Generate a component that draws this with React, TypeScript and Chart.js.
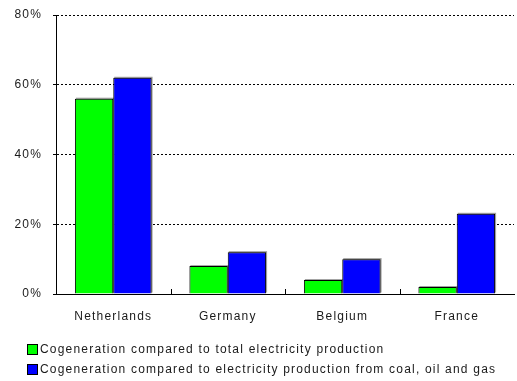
import React, { useEffect, useRef } from "react";
import { Chart, registerables } from "chart.js";

Chart.register(...registerables);

const categories = ["Netherlands", "Germany", "Belgium", "France"];
const totalShare = [56, 8, 4, 2];
const fossilShare = [62, 12, 10, 23];
const seriesLabels = [
  "Cogeneration compared to total electricity production",
  "Cogeneration compared to electricity production from coal, oil and gas",
];
const seriesColors = ["#00ff00", "#0000ff"];
const yTicks = [0, 20, 40, 60, 80];

const FONT = "'Liberation Sans', Arial, sans-serif";
const SPACING = "1.2px";

const spacingPlugin = {
  id: "spacing",
  beforeLayout(chart: any) {
    (chart.ctx as any).letterSpacing = SPACING;
  },
  beforeDraw(chart: any) {
    (chart.ctx as any).letterSpacing = SPACING;
  },
};

const extrasPlugin = {
  id: "extras",
  beforeDatasetsDraw(chart: any) {
    const ctx = chart.ctx;
    ctx.save();
    ctx.fillStyle = "#a0a0a0";
    chart.data.datasets.forEach((_: any, di: number) => {
      const meta = chart.getDatasetMeta(di);
      meta.data.forEach((bar: any) => {
        const { x, y, base, width } = bar.getProps(["x", "y", "base", "width"], true);
        const left = x - width / 2;
        ctx.fillRect(left + 1, y - 1, width, base - y);
      });
    });
    ctx.restore();
  },
  afterDatasetsDraw(chart: any) {
    const ctx = chart.ctx;
    const xs = chart.scales.x;
    const area = chart.chartArea;
    ctx.save();
    ctx.strokeStyle = "#000";
    ctx.lineWidth = 1;
    ctx.beginPath();
    for (let i = 1; i < categories.length; i++) {
      const x = Math.round((xs.getPixelForValue(i - 1) + xs.getPixelForValue(i)) / 2) + 0.5;
      ctx.moveTo(x, area.bottom);
      ctx.lineTo(x, area.bottom - 5);
    }
    ctx.stroke();
    ctx.restore();
  },
  afterDraw(chart: any) {
    const ctx = chart.ctx;
    ctx.save();
    (ctx as any).letterSpacing = SPACING;
    ctx.font = `12px ${FONT}`;
    ctx.textBaseline = "middle";
    ctx.textAlign = "left";
    const rows = [349, 369];
    seriesLabels.forEach((label, i) => {
      const y = rows[i];
      ctx.fillStyle = seriesColors[i];
      ctx.fillRect(27, y - 5, 10, 10);
      ctx.strokeStyle = "#000";
      ctx.lineWidth = 1;
      ctx.strokeRect(27.5, y - 4.5, 10, 10);
      ctx.fillStyle = "#1a1a1a";
      ctx.fillText(label, 40, y + 1);
    });
    ctx.restore();
  },
};

export default function App() {
  const ref = useRef<HTMLCanvasElement | null>(null);
  useEffect(() => {
    if (!ref.current) return;
    const chart = new Chart(ref.current, {
      type: "bar",
      data: {
        labels: categories,
        datasets: [
          {
            label: seriesLabels[0],
            data: totalShare,
            backgroundColor: seriesColors[0],
            borderColor: "#000",
            borderWidth: 1,
            categoryPercentage: 0.67,
            barPercentage: 1,
          },
          {
            label: seriesLabels[1],
            data: fossilShare,
            backgroundColor: seriesColors[1],
            borderColor: "#000",
            borderWidth: 1,
            categoryPercentage: 0.67,
            barPercentage: 1,
          },
        ],
      },
      plugins: [spacingPlugin, extrasPlugin],
      options: {
        animation: false,
        responsive: false,
        maintainAspectRatio: false,
        devicePixelRatio: 1,
        layout: { padding: { top: 15, right: 3, left: 0, bottom: 47 } },
        plugins: {
          legend: { display: false },
          tooltip: { enabled: false },
        },
        scales: {
          x: {
            grid: { display: false, drawTicks: false },
            border: { display: true, color: "#000", width: 1 },
            ticks: {
              padding: 15,
              color: "#1a1a1a",
              font: { family: FONT, size: 12 },
              maxRotation: 0,
            },
            afterFit(scale: any) {
              scale.height = 40;
              scale.paddingLeft = 0;
              scale.paddingRight = 0;
            },
          },
          y: {
            min: 0,
            max: 80,
            afterBuildTicks(scale: any) {
              scale.ticks = yTicks.map((v) => ({ value: v }));
            },
            grid: {
              color: "#000",
              lineWidth: 1,
              drawTicks: true,
              tickLength: 3,
              tickBorderDash: [],
            },
            border: { display: true, color: "#000", width: 1, dash: [2, 2] },
            ticks: {
              padding: 11,
              color: "#1a1a1a",
              font: { family: FONT, size: 12 },
              callback: (v: any) => v + "%",
            },
            afterFit(scale: any) {
              scale.width = 56;
              scale.paddingTop = 0;
              scale.paddingBottom = 0;
            },
          },
        },
      },
    });
    return () => chart.destroy();
  }, []);
  return (
    <div style={{ position: "absolute", left: 0, top: 0, width: 517, height: 381 }}>
      <canvas ref={ref} width={517} height={381} style={{ display: "block" }} />
    </div>
  );
}
